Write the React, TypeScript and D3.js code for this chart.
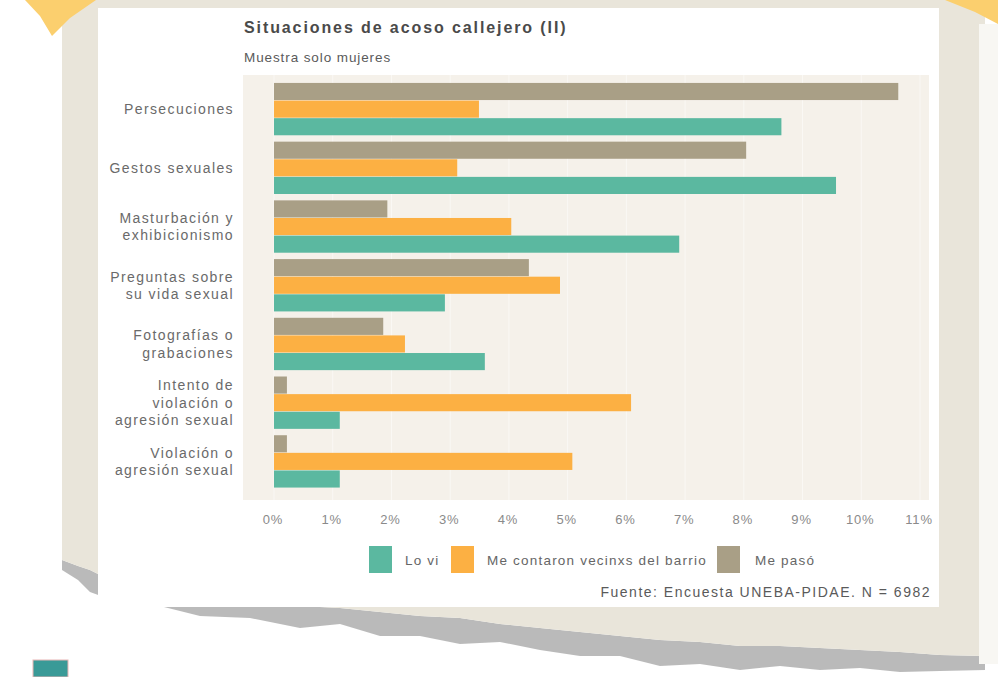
import React from "react";
import * as d3 from "d3";

const categories = [
  "Persecuciones",
  "Gestos sexuales",
  "Masturbación y|exhibicionismo",
  "Preguntas sobre|su vida sexual",
  "Fotografías o|grabaciones",
  "Intento de|violación o|agresión sexual",
  "Violación o|agresión sexual",
];
const seriesNames = ["Me pasó", "Me contaron vecinxs del barrio", "Lo vi"];
const mePaso = [10.63, 8.04, 1.93, 4.34, 1.86, 0.22, 0.22];
const meContaron = [3.49, 3.12, 4.04, 4.87, 2.23, 6.08, 5.08];
const loVi = [8.64, 9.57, 6.9, 2.91, 3.59, 1.12, 1.12];
const xTicks = [0, 1, 2, 3, 4, 5, 6, 7, 8, 9, 10, 11];
const legendOrder = ["Lo vi", "Me contaron vecinxs del barrio", "Me pasó"];

const colors: Record<string, string> = {
  "Lo vi": "#5bb8a0",
  "Me contaron vecinxs del barrio": "#fcb043",
  "Me pasó": "#a99f86",
};

const FONT = "'Liberation Sans', Arial, sans-serif";

export default function App() {
  const W = 998;
  const H = 677;
  const x = d3.scaleLinear().domain([0, 11]).range([274, 920]);
  const y = d3
    .scaleBand<string>()
    .domain(categories)
    .range([80, 491])
    .paddingInner(0.1)
    .paddingOuter(0.05);
  const sub = d3.scaleBand<string>().domain(seriesNames).range([0, y.bandwidth()]);
  const values: Record<string, number[]> = {
    "Me pasó": mePaso,
    "Me contaron vecinxs del barrio": meContaron,
    "Lo vi": loVi,
  };

  // decorative torn paper edges
  const tornEdge: [number, number][] = [
    [62, 560], [78, 566], [90, 570], [120, 585], [160, 590], [200, 596], [250, 600], [300, 606],
    [340, 608], [380, 612], [420, 616], [460, 618], [500, 624], [540, 628], [580, 632],
    [620, 636], [660, 640], [700, 642], [740, 646], [780, 646], [820, 648], [860, 650],
    [900, 652], [940, 655], [985, 656],
  ];
  const thick = [10, 14, 22, 18, 16, 20, 18, 22, 16, 24, 20, 26, 18, 22, 24, 20, 26, 22, 24, 20, 22, 18, 20, 16, 14];
  const line = d3.line();
  const paperPath =
    "M62,0 L985,0 L985," + tornEdge[tornEdge.length - 1][1] + " " +
    tornEdge.slice().reverse().map((p) => `L${p[0]},${p[1]}`).join(" ") + " Z";
  const shadowPts: [number, number][] = [
    ...tornEdge,
    ...tornEdge
      .map((p, i) => [p[0], p[1] + thick[i]] as [number, number])
      .reverse(),
  ];

  const legendItems = [
    { name: legendOrder[0], sx: 369, tx: 405 },
    { name: legendOrder[1], sx: 451, tx: 487 },
    { name: legendOrder[2], sx: 717, tx: 755 },
  ];

  return (
    <svg
      width={W}
      height={H}
      style={{ position: "absolute", left: 0, top: 0, display: "block" }}
      fontFamily={FONT}
    >
      <rect x={0} y={0} width={W} height={H} fill="#ffffff" />
      <path d={(line(shadowPts) || "") + "Z"} fill="#b3b3b3" opacity={0.9} />
      <path d={paperPath} fill="#e9e5da" />
      <polygon points="25,0 96,0 70,18 52,36 40,16" fill="#fbcf6e" />
      <polygon points="945,0 998,0 998,24 975,12" fill="#fbcf6e" />
      <rect x={979} y={24} width={19} height={640} fill="#f8f7f3" />
      <rect x={33} y={660} width={35} height={17} fill="#3a9a97" stroke="#e8b5b5" strokeWidth={1} />

      {/* card */}
      <rect x={98} y={8} width={841} height={599} fill="#ffffff" />

      <text x={244} y={33} fontSize={16} fontWeight="bold" fill="#4a4a4a" letterSpacing={1.9}>
        Situaciones de acoso callejero (II)
      </text>
      <text x={244} y={62} fontSize={13.5} fill="#5a5a5a" letterSpacing={0.9}>
        Muestra solo mujeres
      </text>

      {/* plot background */}
      <rect x={243} y={75} width={686} height={425} fill="#f5f1ea" />
      {xTicks.map((t) => (
        <line key={t} x1={x(t)} x2={x(t)} y1={75} y2={500} stroke="#ffffff" strokeOpacity={0.5} />
      ))}

      {categories.map((c, i) => (
        <g key={c}>
          {seriesNames.map((s) => (
            <rect
              key={s}
              x={x(0)}
              y={(y(c) as number) + (sub(s) as number)}
              width={x(values[s][i]) - x(0)}
              height={sub.bandwidth() - 0.5}
              fill={colors[s]}
            />
          ))}
          {(() => {
            const lines = c.split("|");
            const cy = (y(c) as number) + y.bandwidth() / 2;
            const lh = 17.5;
            const start = cy - ((lines.length - 1) * lh) / 2;
            return lines.map((l, k) => (
              <text
                key={k}
                x={234}
                y={start + k * lh}
                dy="0.35em"
                textAnchor="end"
                fontSize={14}
                fill="#6a6a6a"
                letterSpacing={1.4}
              >
                {l}
              </text>
            ));
          })()}
        </g>
      ))}

      {xTicks.map((t) => (
        <text key={t} x={x(t) - 1} y={519} dy="0.35em" textAnchor="middle" fontSize={13} fill="#8a8a8a" letterSpacing={0.8}>
          {t}%
        </text>
      ))}

      {legendItems.map((it) => (
        <g key={it.name}>
          <rect x={it.sx} y={546} width={23} height={27} fill={colors[it.name]} />
          <text x={it.tx} y={560} dy="0.35em" fontSize={13.5} fill="#666" letterSpacing={1.2}>
            {it.name}
          </text>
        </g>
      ))}

      <text x={931} y={592} dy="0.35em" textAnchor="end" fontSize={14} fill="#5a5a5a" letterSpacing={1.5}>
        Fuente: Encuesta UNEBA-PIDAE. N = 6982
      </text>
    </svg>
  );
}
